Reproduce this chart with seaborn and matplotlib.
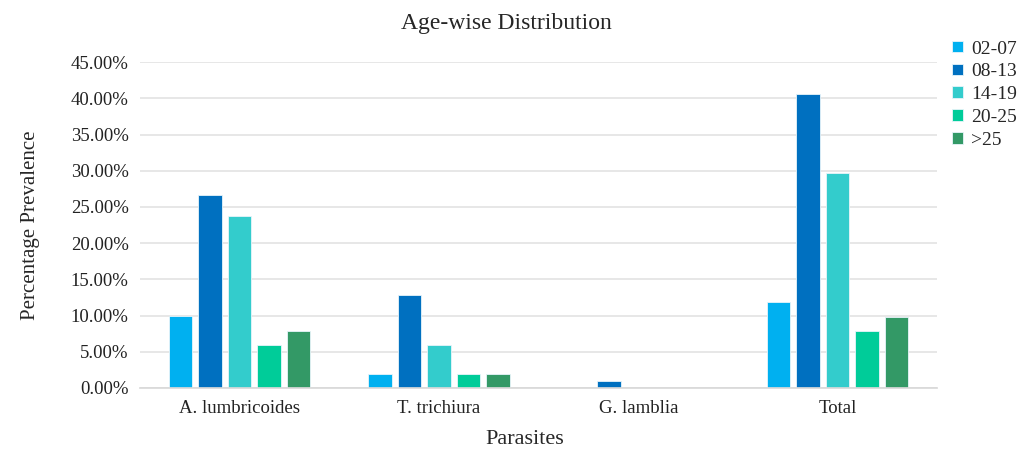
import pandas as pd
import matplotlib.pyplot as plt
import seaborn as sns
from matplotlib.ticker import FuncFormatter

parasites = ["A. lumbricoides", "T. trichiura", "G. lamblia", "Total"]
age_groups = ["02-07", "08-13", "14-19", "20-25", ">25"]
prev_02_07 = [9.9, 1.9, 0.0, 11.9]
prev_08_13 = [26.7, 12.8, 1.0, 40.6]
prev_14_19 = [23.7, 5.9, 0.0, 29.7]
prev_20_25 = [5.9, 1.9, 0.0, 7.9]
prev_over25 = [7.9, 1.9, 0.0, 9.8]
colors = ["#00B0F0", "#0070C0", "#33CCCC", "#00CC99", "#339966"]

series = [prev_02_07, prev_08_13, prev_14_19, prev_20_25, prev_over25]
rows = []
for grp, vals in zip(age_groups, series):
    for p, v in zip(parasites, vals):
        rows.append({"Parasites": p, "Age": grp, "Prevalence": v})
df = pd.DataFrame(rows)

sns.set_theme(style="white")
plt.rcParams["font.family"] = ["Liberation Serif", "DejaVu Serif"]

fig, ax = plt.subplots(figsize=(10.21, 4.5), dpi=100)
fig.subplots_adjust(left=0.137, right=0.918, top=0.862, bottom=0.138)

sns.barplot(data=df, x="Parasites", y="Prevalence", hue="Age", order=parasites,
            hue_order=age_groups, palette=colors, saturation=1, width=0.74, gap=0.2,
            edgecolor="#e8f4fa", linewidth=0.6, ax=ax)

ax.set_ylim(0, 45)
ax.set_yticks(range(0, 46, 5))
ax.yaxis.set_major_formatter(FuncFormatter(lambda v, _: f"{v:.2f}%"))
ax.grid(axis="y", color="#e3e3e3", linewidth=1.2)
ax.set_axisbelow(True)
for s in ["top", "right", "left"]:
    ax.spines[s].set_visible(False)
ax.spines["bottom"].set_color("#d9d9d9")
ax.tick_params(axis="both", labelsize=13.5, length=0, colors="#222222")
ax.tick_params(axis="y", pad=8)
ax.tick_params(axis="x", pad=9)

ax.set_title("Age-wise Distribution", fontsize=17, pad=24, x=0.46)
ax.set_xlabel("Parasites", fontsize=16, labelpad=9)
ax.xaxis.label.set_x(0.483)
ax.set_ylabel("Percentage Prevalence", fontsize=15, labelpad=22)

ax.legend(title=None, loc="upper left", bbox_to_anchor=(0.997, 1.12), frameon=False,
          fontsize=14, handlelength=0.55, handleheight=0.55, handletextpad=0.4,
          labelspacing=0.3)

fig.savefig("out.png", dpi=100)
